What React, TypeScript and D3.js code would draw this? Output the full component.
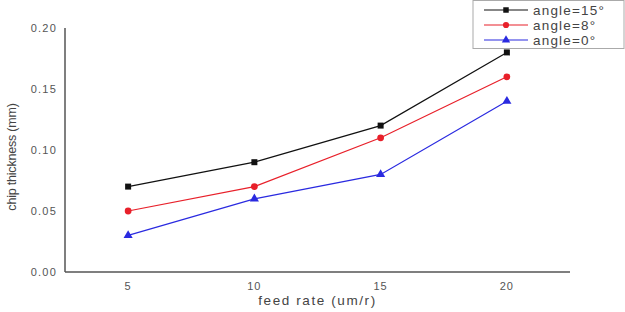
import * as d3 from "d3";
import { useEffect, useRef } from "react";

const feedRates = [5, 10, 15, 20];
const angle15 = [0.07, 0.09, 0.12, 0.18];
const angle8 = [0.05, 0.07, 0.11, 0.16];
const angle0 = [0.03, 0.06, 0.08, 0.14];
const yTicks = [0, 0.05, 0.1, 0.15, 0.2];

const series = [
  { name: "angle=15°", values: angle15, color: "#111111", symbol: d3.symbolSquare },
  { name: "angle=8°", values: angle8, color: "#e8202a", symbol: d3.symbolCircle },
  { name: "angle=0°", values: angle0, color: "#2a2ae0", symbol: d3.symbolTriangle },
];

export default function App() {
  const ref = useRef<SVGSVGElement>(null);

  useEffect(() => {
    if (!ref.current) return;
    const svg = d3.select(ref.current);
    svg.selectAll("*").remove();
    const font = "'Liberation Sans', Arial, sans-serif";

    const x = d3.scaleLinear().domain([2.5, 22.5]).range([65, 570]);
    const y = d3.scaleLinear().domain([0, 0.2]).range([272, 28]);

    // axes
    svg.append("line").attr("x1", 65).attr("x2", 65).attr("y1", y(0.2)).attr("y2", y(0))
      .attr("stroke", "#555").attr("stroke-width", 1.5);
    svg.append("line").attr("x1", 65).attr("x2", 570).attr("y1", y(0)).attr("y2", y(0))
      .attr("stroke", "#555").attr("stroke-width", 1.5);

    svg.append("g").selectAll("text").data(yTicks).enter().append("text")
      .attr("x", 57).attr("y", (d) => y(d) + 4)
      .attr("text-anchor", "end").attr("font-family", font).attr("font-size", 11)
      .attr("fill", "#555").attr("letter-spacing", 1.2)
      .text((d) => d3.format(".2f")(d));

    svg.append("g").selectAll("text").data(feedRates).enter().append("text")
      .attr("x", (d) => x(d)).attr("y", 290)
      .attr("text-anchor", "middle").attr("font-family", font).attr("font-size", 11)
      .attr("fill", "#555").attr("letter-spacing", 1)
      .text((d) => String(d));

    svg.append("text").attr("x", x(12.5)).attr("y", 305).attr("text-anchor", "middle")
      .attr("font-family", font).attr("font-size", 13.5).attr("fill", "#444").attr("letter-spacing", 1.6)
      .text("feed rate (um/r)");

    svg.append("text").attr("transform", `translate(16, 157) rotate(-90)`)
      .attr("text-anchor", "middle").attr("font-family", font).attr("font-size", 12.5)
      .attr("fill", "#444").attr("letter-spacing", -0.2)
      .text("chip thickness (mm)");

    const line = d3.line<number>()
      .x((_, i) => x(feedRates[i]))
      .y((d) => y(d));

    series.forEach((s) => {
      svg.append("path").datum(s.values).attr("fill", "none")
        .attr("stroke", s.color).attr("stroke-width", 1.2).attr("d", line);
      svg.append("g").selectAll("path").data(s.values).enter().append("path")
        .attr("transform", (d, i) => `translate(${x(feedRates[i])}, ${y(d)})`)
        .attr("d", d3.symbol().type(s.symbol).size(36)())
        .attr("fill", s.color);
    });

    // legend
    const lg = svg.append("g");
    lg.append("rect").attr("x", 473).attr("y", 0.5).attr("width", 151).attr("height", 48)
      .attr("fill", "#fff").attr("stroke", "#aaa").attr("stroke-width", 1);
    series.forEach((s, i) => {
      const ly = 10 + i * 15;
      lg.append("line").attr("x1", 484).attr("x2", 528).attr("y1", ly).attr("y2", ly)
        .attr("stroke", s.color).attr("stroke-width", 1.2);
      lg.append("path").attr("transform", `translate(506, ${ly})`)
        .attr("d", d3.symbol().type(s.symbol).size(30)()).attr("fill", s.color);
      lg.append("text").attr("x", 533).attr("y", ly + 4.5).attr("font-family", font)
        .attr("font-size", 13.5).attr("fill", "#444").attr("letter-spacing", 1.2)
        .text(s.name);
    });
  }, []);

  return (
    <svg ref={ref} width={625} height={312}
      style={{ position: "absolute", left: 0, top: 0, background: "#fff" }} />
  );
}
